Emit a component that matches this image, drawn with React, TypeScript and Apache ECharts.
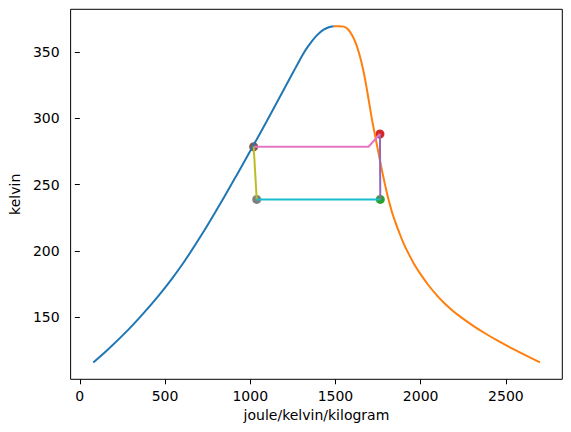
import React, { useEffect, useRef } from "react";
import * as echarts from "echarts";

// Saturated liquid curve (entropy J/kg/K, temperature K)
const liquidS = [79, 162, 282, 373, 465, 540, 618, 732, 848, 926, 1003, 1095, 1190, 1250, 1278, 1307, 1327, 1349, 1380, 1407, 1433, 1461, 1490];
const liquidT = [116.0, 125.4, 140.4, 153.0, 166.8, 179.0, 193.0, 215.8, 240.9, 258.5, 276.1, 297.4, 320.0, 334.3, 341.0, 347.7, 352.0, 356.0, 361.0, 364.5, 367.0, 368.7, 369.5];

// Saturated vapour curve
const vaporS = [1490, 1520, 1549, 1575, 1597, 1618, 1636, 1651, 1665, 1678, 1690, 1713, 1731, 1750, 1770, 1790, 1810, 1830, 1851, 1874, 1899, 1929, 1962, 2002, 2047, 2099, 2129, 2179, 2238, 2304, 2377, 2457, 2544, 2637, 2700];
const vaporT = [369.5, 369.5, 369.1, 367.0, 362.8, 357.0, 350.2, 343.0, 335.1, 326.5, 317.6, 300.0, 288.0, 275.5, 262.5, 250.5, 239.5, 230.0, 222.0, 214.0, 206.0, 198.0, 190.0, 182.0, 174.0, 166.0, 162.0, 156.0, 150.0, 144.0, 138.0, 132.0, 126.0, 120.0, 116.0];

// Cycle state points
const point1 = [1763, 238.9];
const point2 = [1761, 288.2];
const point3 = [1020, 278.6];
const point4 = [1038, 238.9];

// Process lines
const line12S = [1763, 1761];
const line12T = [238.9, 288.2];
const line23S = [1761, 1694, 1020];
const line23T = [288.2, 278.6, 278.6];
const line34S = [1020, 1038];
const line34T = [278.6, 238.9];
const line41S = [1038, 1763];
const line41T = [238.9, 238.9];

const xTicks = [0, 500, 1000, 1500, 2000, 2500];
const yTicks = [150, 200, 250, 300, 350];

const zip = (a: number[], b: number[]) => a.map((v, i) => [v, b[i]]);

const FONT = "DejaVu Sans";

export default function App() {
  const ref = useRef<HTMLDivElement>(null);
  useEffect(() => {
    document.body.style.margin = "0";
    if (!ref.current) return;
    const chart = echarts.init(ref.current, undefined, { renderer: "svg" });
    const lineSeries = (data: number[][], color: string) => ({
      type: "line",
      data,
      showSymbol: false,
      smooth: false,
      lineStyle: { color, width: 2 },
      itemStyle: { color },
    });
    const pointSeries = (p: number[], color: string) => ({
      type: "scatter",
      data: [p],
      symbolSize: 9,
      itemStyle: { color, opacity: 1 },
    });
    chart.setOption({
      animation: false,
      grid: {
        left: 66,
        right: 8.7,
        top: 9.3,
        bottom: 52.7,
        show: true,
        borderColor: "#000",
        borderWidth: 1,
        backgroundColor: "#fff",
      },
      xAxis: {
        type: "value",
        min: -54,
        max: 2831,
        name: "joule/kelvin/kilogram",
        nameLocation: "middle",
        nameGap: 29,
        nameTextStyle: { fontFamily: FONT, fontSize: 14, color: "#000" },
        axisLine: { show: false },
        axisTick: { show: true, length: 5, lineStyle: { color: "#000", width: 1 }, customValues: xTicks },
        axisLabel: {
          fontFamily: FONT,
          fontSize: 14,
          color: "#000",
          margin: 10,
          customValues: xTicks,
          formatter: (v: number) => String(v),
        },
        splitLine: { show: false },
      },
      yAxis: {
        type: "value",
        min: 103.3,
        max: 382.2,
        name: "kelvin",
        nameLocation: "middle",
        nameGap: 42,
        nameTextStyle: { fontFamily: FONT, fontSize: 14, color: "#000" },
        axisLine: { show: false },
        axisTick: { show: true, length: 5, lineStyle: { color: "#000", width: 1 }, customValues: yTicks },
        axisLabel: {
          fontFamily: FONT,
          fontSize: 14,
          color: "#000",
          margin: 11,
          customValues: yTicks,
          formatter: (v: number) => String(v),
        },
        splitLine: { show: false },
      },
      series: [
        { ...lineSeries(zip(liquidS, liquidT), "#1f77b4"), smooth: 0.3 },
        { ...lineSeries(zip(vaporS, vaporT), "#ff7f0e"), smooth: 0.3 },
        pointSeries(point1, "#2ca02c"),
        pointSeries(point2, "#d62728"),
        lineSeries(zip(line12S, line12T), "#9467bd"),
        pointSeries(point3, "#8c564b"),
        lineSeries(zip(line23S, line23T), "#e377c2"),
        pointSeries(point4, "#7f7f7f"),
        lineSeries(zip(line34S, line34T), "#bcbd22"),
        lineSeries(zip(line41S, line41T), "#17becf"),
      ],
    });
    return () => chart.dispose();
  }, []);
  return <div ref={ref} style={{ width: 571, height: 432 }} />;
}
